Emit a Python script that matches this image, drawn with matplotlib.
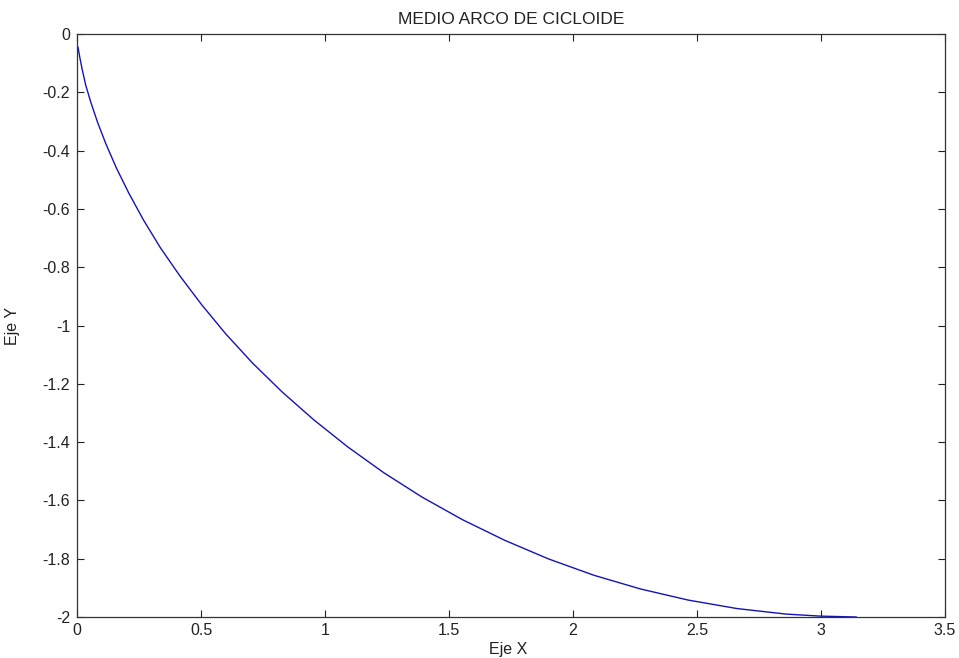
import matplotlib
matplotlib.use("Agg")
import matplotlib.pyplot as plt
from matplotlib.ticker import FuncFormatter

x_vals = [0.004, 0.011, 0.021, 0.035, 0.056, 0.083, 0.117, 0.159, 0.209,
          0.268, 0.336, 0.415, 0.503, 0.600, 0.708, 0.826, 0.954, 1.091,
          1.237, 1.392, 1.554, 1.725, 1.902, 2.085, 2.273, 2.465, 2.661,
          2.859, 2.998, 3.142]
y_vals = [-0.045, -0.079, -0.122, -0.175, -0.235, -0.303, -0.378, -0.460,
          -0.546, -0.638, -0.733, -0.830, -0.929, -1.029, -1.129, -1.227,
          -1.323, -1.416, -1.505, -1.589, -1.666, -1.737, -1.801, -1.857,
          -1.904, -1.942, -1.971, -1.990, -1.997, -2.000]
x_ticks = [0, 0.5, 1, 1.5, 2, 2.5, 3, 3.5]
y_ticks = [0, -0.2, -0.4, -0.6, -0.8, -1, -1.2, -1.4, -1.6, -1.8, -2]

plt.rcParams["font.family"] = ["Liberation Sans", "DejaVu Sans"]
plt.rcParams["axes.unicode_minus"] = False

fig = plt.figure(figsize=(9.59, 6.58), dpi=100)
ax = fig.add_axes([0.0803, 0.0623, 0.9051, 0.886])
ax.plot(x_vals, y_vals, color="#1414b4", lw=1.0)

ax.set_xlim(0, 3.5)
ax.set_ylim(-2, 0)
ax.set_xticks(x_ticks)
ax.set_yticks(y_ticks)
fmt = FuncFormatter(lambda v, p: "%g" % v)
ax.xaxis.set_major_formatter(fmt)
ax.yaxis.set_major_formatter(fmt)
ax.tick_params(direction="in", length=5, width=0.8, top=True, right=True,
               labelsize=11.5, colors="#222222")
ax.tick_params(axis="x", pad=4)
ax.tick_params(axis="y", pad=5)
for s in ax.spines.values():
    s.set_linewidth(0.9)
    s.set_color("#333333")

ax.set_title("MEDIO ARCO DE CICLOIDE", fontsize=12.5, pad=7, color="#222222")
ax.set_xlabel("Eje X", fontsize=11.5, color="#222222")
ax.set_ylabel("Eje Y", fontsize=11.5, color="#222222")
ax.xaxis.set_label_coords(0.497, -0.043)
ax.yaxis.set_label_coords(-0.066, 0.5)

fig.savefig("out.png", dpi=100)
